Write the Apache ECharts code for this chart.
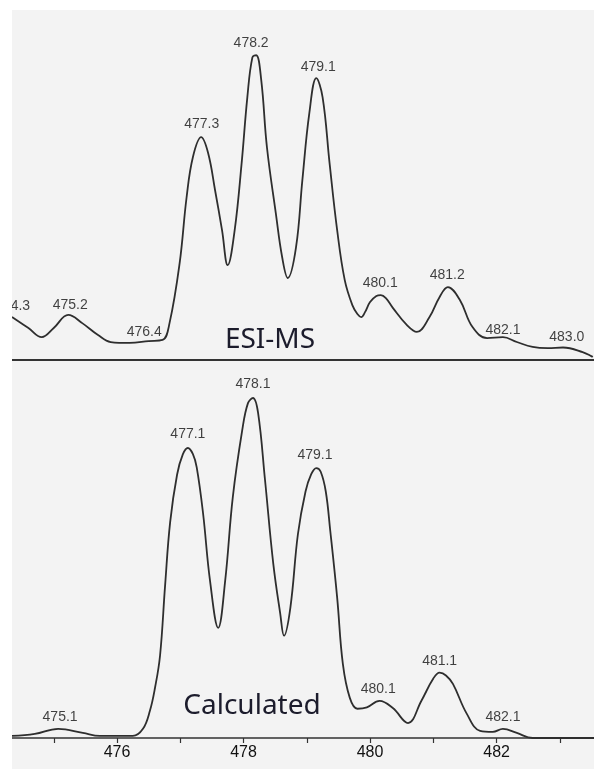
<!DOCTYPE html>
<html>
<head>
<meta charset="utf-8">
<script src="https://cdn.jsdelivr.net/npm/echarts@6/dist/echarts.min.js"></script>
<style>
  html, body { margin: 0; padding: 0; background: #fff; }
  #chart { width: 594px; height: 769px; }
</style>
</head>
<body>
<div id="chart"></div>
<script>
// ESI-MS trace (m/z, relative intensity)
const esiMz = [474.34, 474.6, 474.81, 475.0, 475.23, 475.45, 475.7, 475.9, 476.2, 476.5, 476.72, 476.83, 476.99,
  477.1, 477.2, 477.33, 477.44, 477.55, 477.66, 477.75, 477.86, 477.97, 478.06, 478.14, 478.2, 478.28, 478.37,
  478.51, 478.61, 478.7, 478.83, 478.93, 479.04, 479.15, 479.25, 479.36, 479.48, 479.6, 479.72, 479.8, 479.86,
  479.92, 480.0, 480.1, 480.17, 480.25, 480.36, 480.58, 480.74, 480.94, 481.1, 481.23, 481.42, 481.62, 481.85,
  482.1, 482.32, 482.57, 482.81, 483.05, 483.36, 483.52];
const esiInt = [14.1, 10.5, 7.5, 10.5, 14.8, 12.1, 8.2, 5.9, 5.6, 6.2, 6.6, 12.1, 31.8,
  53.4, 66.6, 73.1, 67.9, 55.7, 42.6, 31.1, 42.6, 64.6, 86.2, 99.3, 100, 91.8, 69.8,
  48.2, 33.8, 26.9, 37, 59, 81, 92.5, 86.2, 64.6, 42.6, 26.2, 18.0, 15.1, 14.1,
  15.7, 19.0, 21.0, 21.3, 20.3, 17.1, 11.5, 9.2, 14.1, 20.7, 23.9, 19.7, 10.8, 7.2,
  7.5, 5.9, 4.3, 3.9, 4.1, 2.6, 1.0];

// calculated isotope pattern
const calcMz = [474.34, 474.7, 475.07, 475.46, 475.73, 476.25, 476.41, 476.52, 476.6, 476.68, 476.76, 476.84, 476.95,
  477.04, 477.12, 477.2, 477.26, 477.36, 477.47, 477.6, 477.71, 477.83, 477.98, 478.07, 478.15, 478.23, 478.34,
  478.47, 478.58, 478.64, 478.74, 478.86, 478.98, 479.07, 479.15, 479.22, 479.3, 479.37, 479.48, 479.57, 479.68,
  479.8, 479.95, 480.15, 480.36, 480.6, 480.81, 481.0, 481.1, 481.2, 481.31, 481.53, 481.74, 481.94, 482.1,
  482.32, 482.57, 483.0, 483.54];
const calcInt = [0.6, 1.2, 2.7, 1.5, 0.6, 0.6, 2.7, 8.0, 14.7, 24.2, 44.8, 63.5, 77.5,
  83.4, 85.3, 83.5, 79.6, 66.1, 46.3, 32.4, 46.3, 70.8, 90.6, 98.5, 100, 95.6, 75.8,
  51.3, 36.6, 30.1, 38.3, 60.0, 72.5, 77.6, 79.4, 78.3, 72.5, 61.1, 41.3, 21.8, 11.8,
  8.6, 9.0, 10.9, 8.8, 4.4, 10.9, 17.5, 19.2, 18.4, 15.9, 7.1, 2.1, 1.8, 2.7,
  1.5, 0, 0, 0];

// peak labels: text, anchor m/z, anchor level
const esiLabels = ['474.3', '475.2', '476.4', '477.3', '478.2', '479.1', '480.1', '481.2', '482.1', '483.0'];
const esiLabelMz = [474.35, 475.26, 476.43, 477.34, 478.12, 479.18, 480.16, 481.22, 482.1, 483.11];
const esiLabelY = [17.7, 18.0, 9.2, 77.4, 104.0, 96.1, 25.3, 27.9, 9.8, 7.5];

const calcLabels = ['475.1', '477.1', '478.1', '479.1', '480.1', '481.1', '482.1'];
const calcLabelMz = [475.1, 477.12, 478.15, 479.13, 480.13, 481.1, 482.1];
const calcLabelY = [6.2, 89.4, 104.1, 83.2, 14.4, 22.6, 6.2];

const tickValues = [475, 476, 477, 478, 479, 480, 481, 482, 483];
const tickLabels = [476, 478, 480, 482];

const xMin = 474.34, xMax = 483.54;
const labelFont = "'Liberation Sans', Arial, sans-serif";

function zip(a, b) { return a.map((v, i) => [v, b[i]]); }
function labelSeries(idx, texts, xs, ys) {
  return {
    type: 'scatter', xAxisIndex: idx, yAxisIndex: idx,
    symbolSize: 0, silent: true, z: 5,
    data: xs.map((x, i) => ({ value: [x, ys[i]], name: texts[i] })),
    label: {
      show: true, position: 'inside', formatter: p => p.name,
      fontFamily: labelFont, fontSize: 14, color: '#111'
    }
  };
}

const chart = echarts.init(document.getElementById('chart'));
chart.setOption({
  animation: false,
  backgroundColor: '#ffffff',
  graphic: [
    { type: 'rect', z: -100, shape: { x: 12, y: 10, width: 582, height: 759 }, style: { fill: '#f3f3f3' } },
    { type: 'rect', z: 100, shape: { x: 0, y: 0, width: 12, height: 769 }, style: { fill: '#ffffff' } },
    { type: 'text', z: 100, x: 270, y: 340,
      style: { text: 'ESI-MS', fontFamily: "'Noto Sans', sans-serif", fontSize: 28, fill: '#1c1c2c', align: 'center', verticalAlign: 'middle' } },
    { type: 'text', z: 100, x: 252, y: 706,
      style: { text: 'Calculated', fontFamily: "'Noto Sans', sans-serif", fontSize: 28, fill: '#1c1c2c', align: 'center', verticalAlign: 'middle' } }
  ],
  grid: [
    { left: 12, right: 0, top: 40, height: 320 },
    { left: 12, right: 0, top: 381, height: 357 }
  ],
  xAxis: [
    {
      gridIndex: 0, type: 'value', min: xMin, max: xMax,
      axisLine: { show: true, onZero: false, lineStyle: { color: '#333', width: 2 } },
      axisTick: { show: false }, axisLabel: { show: false }, splitLine: { show: false }
    },
    {
      gridIndex: 1, type: 'value', min: xMin, max: xMax,
      axisLine: { show: true, onZero: false, lineStyle: { color: '#333', width: 1.6 } },
      axisTick: { show: true, customValues: tickValues, length: 5, lineStyle: { color: '#333', width: 1.2 } },
      axisLabel: { show: true, customValues: tickLabels, margin: 7, fontFamily: labelFont, fontSize: 16, color: '#111' },
      splitLine: { show: false }
    }
  ],
  yAxis: [
    { gridIndex: 0, type: 'value', min: 0, max: 105, show: false },
    { gridIndex: 1, type: 'value', min: 0, max: 105, show: false }
  ],
  series: [
    {
      name: 'ESI-MS', type: 'line', xAxisIndex: 0, yAxisIndex: 0,
      data: zip(esiMz, esiInt), smooth: 0.4, showSymbol: false, silent: true,
      lineStyle: { color: '#2e2e2e', width: 1.8 }
    },
    {
      name: 'Calculated', type: 'line', xAxisIndex: 1, yAxisIndex: 1,
      data: zip(calcMz, calcInt), smooth: 0.4, showSymbol: false, silent: true,
      lineStyle: { color: '#2e2e2e', width: 1.8 }
    },
    labelSeries(0, esiLabels, esiLabelMz, esiLabelY),
    labelSeries(1, calcLabels, calcLabelMz, calcLabelY)
  ]
});
</script>
</body>
</html>
